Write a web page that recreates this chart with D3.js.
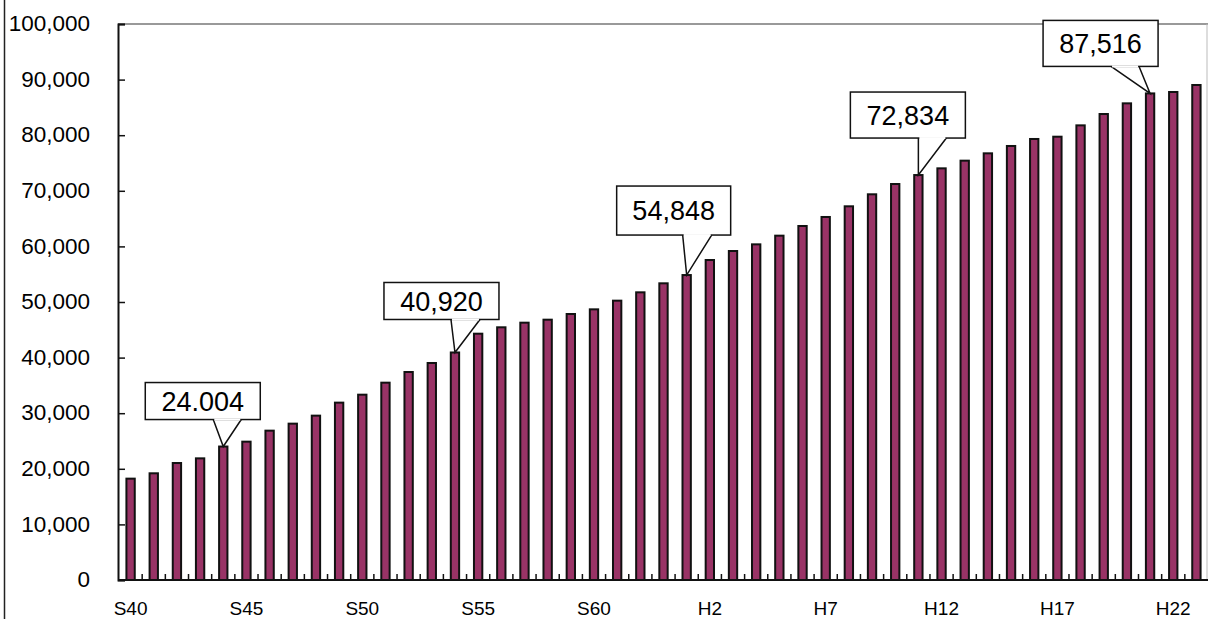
<!DOCTYPE html>
<html>
<head>
<meta charset="utf-8">
<script src="https://cdn.jsdelivr.net/npm/d3@7"></script>
<style>
  html, body { margin: 0; padding: 0; background: #fff; }
  svg { display: block; }
  text { font-family: "Liberation Sans", Arial, sans-serif; fill: #000; }
</style>
</head>
<body>
<svg id="chart" width="1208" height="619"></svg>
<script>
// ---- data ----
const years = ["S40","S41","S42","S43","S44","S45","S46","S47","S48","S49",
  "S50","S51","S52","S53","S54","S55","S56","S57","S58","S59",
  "S60","S61","S62","S63","H1","H2","H3","H4","H5","H6",
  "H7","H8","H9","H10","H11","H12","H13","H14","H15","H16",
  "H17","H18","H19","H20","H21","H22","H23"];
const values = [18230, 19190, 21040, 21880, 24004, 24880, 26860, 28120, 29560, 31900,
  33330, 35490, 37410, 39030, 40920, 44300, 45450, 46280, 46820, 47840,
  48680, 50240, 51740, 53360, 54848, 57550, 59170, 60370, 61930, 63670,
  65290, 67210, 69370, 71220, 72834, 74040, 75420, 76740, 78060, 79320,
  79730, 81770, 83810, 85730, 87516, 87770, 89030];
const xTickLabels = ["S40","S45","S50","S55","S60","H2","H7","H12","H17","H22"];
const yTicks = [0,10000,20000,30000,40000,50000,60000,70000,80000,90000,100000];
const calloutYears = ["S44","S54","H1","H11","H21"];
const calloutTexts = ["24.004","40,920","54,848","72,834","87,516"];

// ---- layout (not data) ----
const calloutLayout = [
  {dx: -78, dy: -64, w: 115, h: 37, p1: -10, p2: 18},
  {dx: -71, dy: -70, w: 115, h: 37, p1: -4,  p2: 25},
  {dx: -70, dy: -89, w: 114, h: 49, p1: -4,  p2: 25},
  {dx: -68, dy: -83, w: 115, h: 46, p1: 0,   p2: 28},
  {dx: -107,dy: -73, w: 115, h: 46, p1: -39, p2: -11}
];

const svg = d3.select("#chart");
const padL = 118, padR = 1207, padT = 24, padB = 580;

const x = d3.scaleBand().domain(years).range([padL + 1, padR + 1]).paddingInner(0).paddingOuter(0);
const y = d3.scaleLinear().domain([0, 100000]).range([padB, padT]);

// outer left border line
svg.append("line").attr("x1", 4.5).attr("x2", 4.5).attr("y1", 0).attr("y2", 619)
  .attr("stroke", "#222").attr("stroke-width", 1.5);

// plot frame (top and right grey)
svg.append("line").attr("x1", padL).attr("x2", 1208).attr("y1", padT).attr("y2", padT)
  .attr("stroke", "#999").attr("stroke-width", 2);
svg.append("line").attr("x1", 1207).attr("x2", 1207).attr("y1", padT).attr("y2", padB)
  .attr("stroke", "#bbb").attr("stroke-width", 1);

// bars
const bw = x.bandwidth() * 0.36;
svg.append("g").selectAll("rect").data(values).join("rect")
  .attr("x", (d, i) => x(years[i]) + x.bandwidth() / 2 - bw / 2)
  .attr("y", d => y(d))
  .attr("width", bw)
  .attr("height", d => y(0) - y(d))
  .attr("fill", "#993366")
  .attr("stroke", "#111")
  .attr("stroke-width", 2);

// y axis
const yAxis = d3.axisRight(y).tickValues(yTicks).tickSize(7).tickFormat("");
const yg = svg.append("g").attr("transform", `translate(${padL},0)`).call(yAxis);
yg.select(".domain").attr("stroke", "#111").attr("stroke-width", 2);
yg.selectAll(".tick line").attr("stroke", "#111").attr("stroke-width", 1.5);
svg.append("g").selectAll("text").data(yTicks).join("text")
  .attr("x", 90).attr("y", d => y(d) - 1).attr("dy", "0.36em")
  .attr("text-anchor", "end").attr("font-size", 22.5)
  .text(d => d3.format(",")(d));

// x axis: ticks at band boundaries, pointing up
const boundaries = years.map(d => x(d)).slice(1);
svg.append("g").selectAll("line").data(boundaries).join("line")
  .attr("x1", d => d).attr("x2", d => d)
  .attr("y1", padB).attr("y2", padB - 6)
  .attr("stroke", "#111").attr("stroke-width", 1.5);
svg.append("line").attr("x1", padL).attr("x2", 1208).attr("y1", padB).attr("y2", padB)
  .attr("stroke", "#111").attr("stroke-width", 2);
svg.append("g").selectAll("text").data(xTickLabels).join("text")
  .attr("x", d => x(d) + x.bandwidth() / 2).attr("y", 615)
  .attr("text-anchor", "middle").attr("font-size", 19)
  .text(d => d);

// callouts
const cg = svg.append("g");
calloutYears.forEach((yr, i) => {
  const L = calloutLayout[i];
  const cx = x(yr) + x.bandwidth() / 2;
  const ty = y(values[years.indexOf(yr)]);
  const bx = cx + L.dx, by = ty + L.dy;
  const g = cg.append("g");
  g.append("path")
    .attr("d", `M${cx + L.p1},${by + L.h} L${cx},${ty} L${cx + L.p2},${by + L.h}`)
    .attr("fill", "#fff").attr("stroke", "#111").attr("stroke-width", 1.5);
  g.append("rect").attr("x", bx).attr("y", by).attr("width", L.w).attr("height", L.h)
    .attr("fill", "#fff").attr("stroke", "#111").attr("stroke-width", 1.5);
  g.append("path")
    .attr("d", `M${cx + L.p1 + 1},${by + L.h} L${cx + L.p2 - 1},${by + L.h}`)
    .attr("stroke", "#fff").attr("stroke-width", 2);
  g.append("text").attr("x", bx + L.w / 2).attr("y", by + L.h / 2).attr("dy", "0.36em")
    .attr("text-anchor", "middle").attr("font-size", 27)
    .text(calloutTexts[i]);
});
</script>
</body>
</html>
